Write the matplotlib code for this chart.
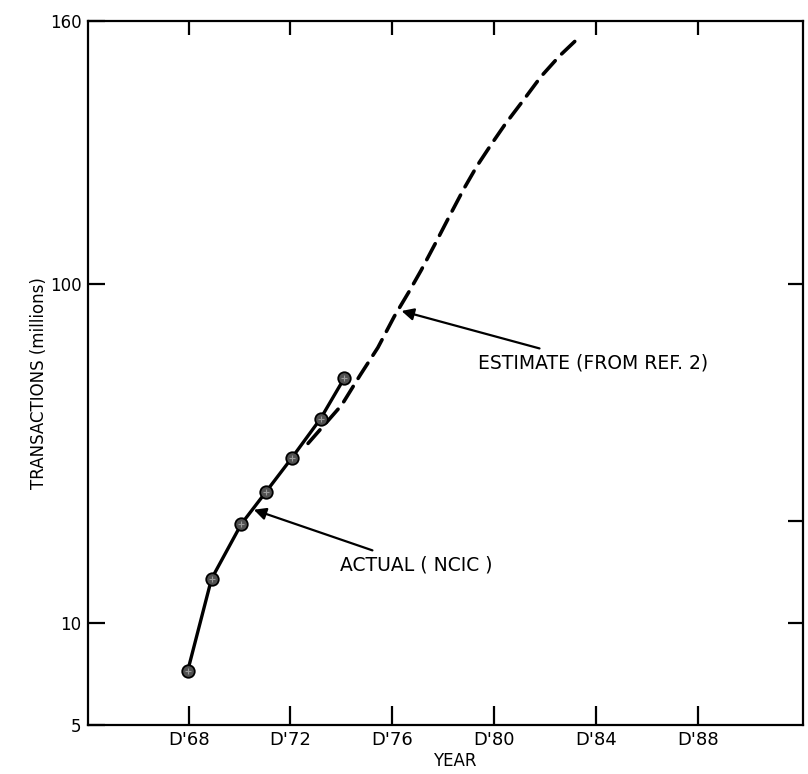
import matplotlib
matplotlib.use("Agg")
import matplotlib.pyplot as plt
from matplotlib.ticker import NullLocator, FixedLocator

plt.rcParams['font.family'] = ['DejaVu Sans']

# Actual (NCIC) data: year (19xx) and transactions in millions
actual_years = [67.96, 68.90, 70.07, 71.04, 72.05, 73.18, 74.11]
actual_vals = [7.2, 13.5, 19.6, 24.4, 30.7, 40.1, 52.8]

# Estimate (from Ref. 2)
est_years = [72.69, 74.01, 74.74, 75.43, 76.08, 76.65, 77.13, 77.71, 78.28,
             78.80, 79.33, 79.90, 80.43, 81.15, 81.83, 82.56, 83.24]
est_vals = [33.9, 44.0, 54.0, 65.0, 80.5, 95.0, 110.0, 133.0, 161.0,
            191.0, 224.0, 260.0, 297.0, 350, 410, 472, 528]

xtick_years = [68, 72, 76, 80, 84, 88]
xtick_labels = ["D'68", "D'72", "D'76", "D'80", "D'84", "D'88"]
ytick_vals = [5, 10, 100, 600]
ytick_labels = ["5", "10", "100", "160"]
right_ticks = [10, 20, 100]

XLIM = (64.07, 92.1)
YLIM = (5, 600)

fig = plt.figure(figsize=(8.08, 7.74), dpi=100)
ax = fig.add_axes([0.1095, 0.0633, 0.8837, 0.910])
ax.set_yscale('log')
ax.set_xlim(*XLIM)
ax.set_ylim(*YLIM)

ax.plot(est_years, est_vals, color='black', lw=2.6, dashes=(5, 2.6),
        dash_capstyle='round')
ax.plot(actual_years, actual_vals, color='black', lw=2.4, marker='o',
        ms=9, mfc='#505050', mec='black', mew=1.3)
ax.plot(actual_years, actual_vals, ls='none', marker='+', ms=5,
        mec='#9a9a9a', mew=0.8)

for s in ax.spines.values():
    s.set_linewidth(1.6)

# main axis ticks: bottom and left, pointing inward
ax.xaxis.set_major_locator(FixedLocator(xtick_years))
ax.set_xticklabels(xtick_labels, fontsize=13)
ax.yaxis.set_major_locator(FixedLocator(ytick_vals))
ax.set_yticklabels(ytick_labels, fontsize=12)
ax.xaxis.set_minor_locator(NullLocator())
ax.yaxis.set_minor_locator(NullLocator())
ax.tick_params(axis='x', which='major', direction='in', length=14,
               width=1.6, pad=4, bottom=True, top=False,
               labelbottom=True, labeltop=False)
ax.tick_params(axis='y', which='major', direction='in', length=12,
               width=1.6, pad=5, left=True, right=False,
               labelleft=True, labelright=False)

# right-hand ticks via twin axes
axr = ax.twinx()
axr.set_yscale('log')
axr.set_ylim(*YLIM)
axr.yaxis.set_major_locator(FixedLocator(right_ticks))
axr.yaxis.set_minor_locator(NullLocator())
axr.tick_params(axis='y', which='major', direction='in', length=11,
                width=1.6, left=False, right=True, labelright=False,
                labelleft=False)
for s in axr.spines.values():
    s.set_visible(False)

# top ticks via twin axes
axt = ax.twiny()
axt.set_xlim(*XLIM)
axt.xaxis.set_major_locator(FixedLocator(xtick_years))
axt.xaxis.set_minor_locator(NullLocator())
axt.tick_params(axis='x', which='major', direction='in', length=10,
                width=1.6, top=True, bottom=False, labeltop=False,
                labelbottom=False)
for s in axt.spines.values():
    s.set_visible(False)

ax.set_ylabel('TRANSACTIONS (millions)', fontsize=12)
ax.yaxis.set_label_coords(-0.056, 0.485)
ax.set_xlabel('YEAR', fontsize=12)
ax.xaxis.set_label_coords(0.513, -0.039)

ax.annotate('ESTIMATE (FROM REF. 2)', xy=(76.36, 83.4), xytext=(79.35, 58.6),
            fontsize=13.5, ha='left', va='center',
            arrowprops=dict(arrowstyle='-|>', color='black', lw=1.6,
                            mutation_scale=18, shrinkA=6, shrinkB=0))
ax.annotate('ACTUAL ( NCIC )', xy=(70.56, 21.6), xytext=(73.94, 14.8),
            fontsize=13.5, ha='left', va='center',
            arrowprops=dict(arrowstyle='-|>', color='black', lw=1.6,
                            mutation_scale=18, shrinkA=6, shrinkB=0))

fig.savefig('out.png', dpi=100)
